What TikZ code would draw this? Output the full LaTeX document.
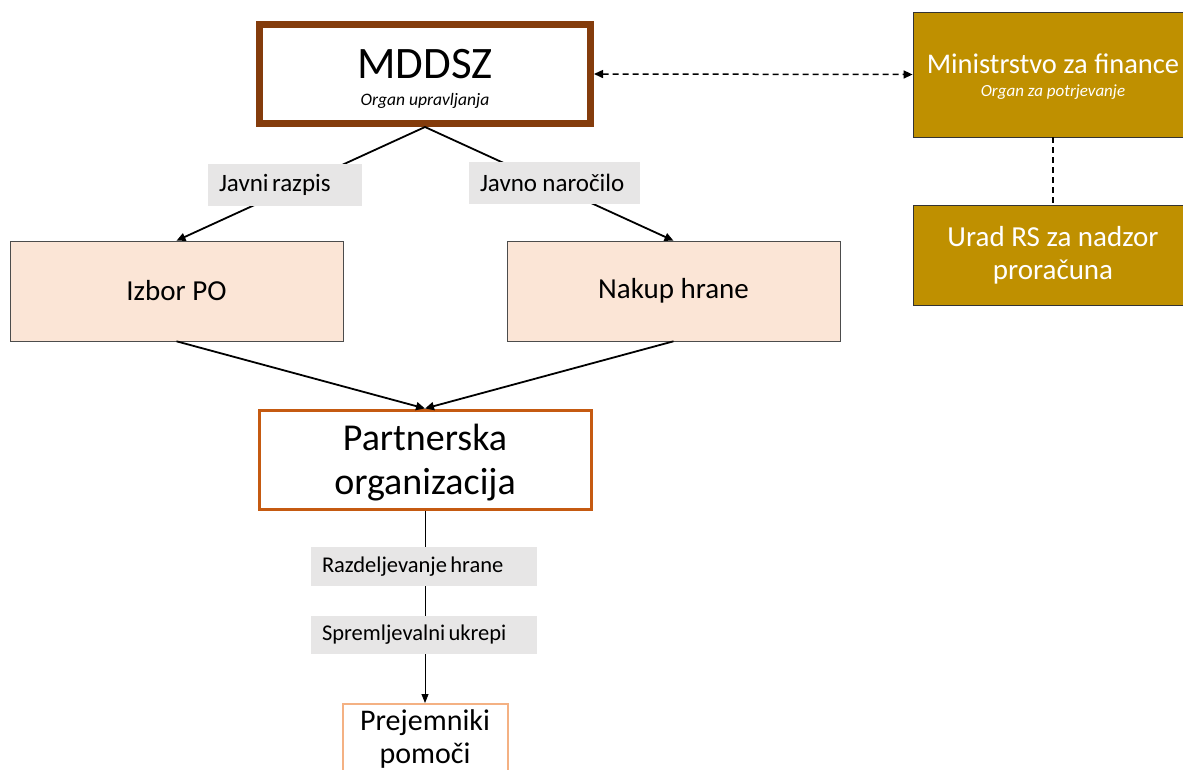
\documentclass[tikz,border=0pt]{standalone}
\usepackage{fontspec}
\setmainfont{Carlito}
\usetikzlibrary{arrows.meta}
\definecolor{mbrown}{HTML}{843C0C}
\definecolor{gold}{HTML}{BF9000}
\definecolor{peach}{HTML}{FBE5D6}
\definecolor{porange}{HTML}{C55A11}
\definecolor{lorange}{HTML}{F4B183}
\definecolor{lgray}{HTML}{E7E6E6}
\begin{document}
\begin{tikzpicture}[x=1pt,y=-1pt,
  goldbox/.style={fill=gold,draw=black!80,line width=0.8pt,text=white,align=center,inner sep=0pt},
  peachbox/.style={fill=peach,draw=black!70,line width=0.6pt,minimum width=333pt,minimum height=100pt,font=\fontsize{29}{33}\selectfont,inner sep=0pt},
  lbl/.style={fill=lgray,inner xsep=11pt,inner ysep=0pt,align=left},
  arr/.style={-{Triangle[length=9pt,width=8pt]},line width=1.8pt},
  thin arr/.style={-{Triangle[length=9pt,width=7pt]},line width=0.8pt}]
\useasboundingbox (0,0) rectangle (1183,770);
% top box
\node[draw=mbrown,line width=7pt,fill=white,minimum width=331pt,minimum height=99pt,inner sep=0pt] (mddsz) at (425,74) {};
\node (t1) at (425,64) {\fontsize{45}{48}\selectfont MDDSZ};
\node (t2) at (425,101) {\fontsize{17.5}{20}\selectfont\itshape Organ upravljanja};
% finance
\node[goldbox,minimum width=280pt,minimum height=125pt] (mf) at (1053,74.5) {};
\node[text=white] (t3) at (1053,64) {\fontsize{28.5}{32}\selectfont Ministrstvo za finance};
\node[text=white] (t4) at (1053,92) {\fontsize{17}{19}\selectfont\itshape Organ za potrjevanje};
\node[goldbox,minimum width=280pt,minimum height=100pt,font=\fontsize{29}{33}\selectfont] (urad) at (1053,255) {Urad RS za nadzor\\proračuna};
% peach
\node[peachbox] (izbor) at (176.5,291) {Izbor PO};
\node[peachbox] (nakup) at (673.5,291) {Nakup hrane};
% partner
\node[draw=porange,line width=3pt,fill=white,minimum width=332pt,minimum height=99pt,inner sep=0pt] (po) at (425,459.5) {};
\node[align=center,font=\fontsize{38}{44}\selectfont,inner sep=0pt] (t6) at (425,463) {Partnerska\\organizacija};
% prejemniki
\node[draw=lorange,line width=2pt,fill=white,minimum width=165pt,minimum height=80pt,inner sep=0pt,anchor=north] (prej) at (425,703) {};
\node[align=center,font=\fontsize{30}{32.5}\selectfont,inner sep=0pt] (t5) at (425,739) {Prejemniki\\pomoči};
% connectors
\draw[arr] (mddsz.south) -- (izbor.north);
\draw[arr] (mddsz.south) -- (nakup.north);
\draw[arr] (izbor.south) -- (po.north);
\draw[arr] (nakup.south) -- (po.north);
\draw[line width=1.5pt,dash pattern=on 6pt off 4pt,{Triangle[length=9pt,width=8pt]}-{Triangle[length=9pt,width=8pt]}] (mddsz.east) -- (mf.west);
\draw[line width=1.5pt,dash pattern=on 6pt off 4pt] (mf.south) -- (urad.north);
\draw[thin arr] (po.south) -- (prej.north);
% labels
\node[lbl,text width=132pt,minimum height=42pt] (l1) at (285,185) {\fontsize{25}{28}\selectfont Javni razpis};
\node[lbl,text width=149pt,minimum height=42pt] (l2) at (554.5,183) {\fontsize{25}{28}\selectfont Javno\hspace{2pt} naročilo};
\node[lbl,text width=204pt,minimum height=39pt] (l3) at (424,566.5) {\fontsize{22.5}{25}\selectfont Razdeljevanje hrane};
\node[lbl,text width=204pt,minimum height=38pt] (l4) at (424,635) {\fontsize{22.5}{25}\selectfont Spremljevalni ukrepi};
\end{tikzpicture}
\end{document}
